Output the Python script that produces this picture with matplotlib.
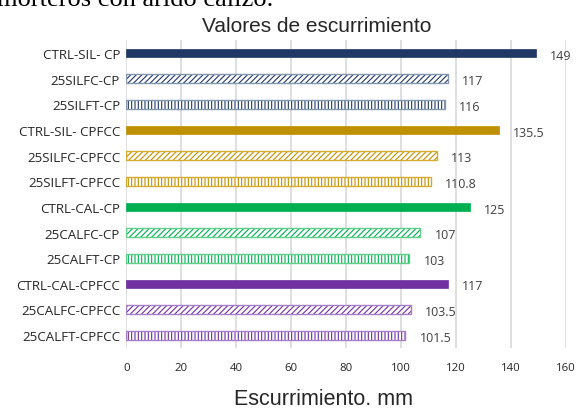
import numpy as np
import matplotlib.pyplot as plt

categorias = ["CTRL-SIL- CP", "25SILFC-CP", "25SILFT-CP",
              "CTRL-SIL- CPFCC", "25SILFC-CPFCC", "25SILFT-CPFCC",
              "CTRL-CAL-CP", "25CALFC-CP", "25CALFT-CP",
              "CTRL-CAL-CPFCC", "25CALFC-CPFCC", "25CALFT-CPFCC"]
valores = [149, 117, 116, 135.5, 113, 110.8, 125, 107, 103, 117, 103.5, 101.5]
etiquetas = ["149", "117", "116", "135.5", "113", "110.8",
             "125", "107", "103", "117", "103.5", "101.5"]

# color oscuro (relleno / trama) y claro (borde) por grupo
colores_grupo = ["#203864", "#BF9000", "#00B050", "#7030A0"]
bordes_grupo = ["#8497B0", "#D4AA30", "#5FD08A", "#A57FC8"]
rellenos = [None, "//////", "|||||"]

plt.rcParams["hatch.linewidth"] = 0.8

fig = plt.figure(figsize=(5.77, 4.10), dpi=100)
ax = fig.add_axes([0.2192, 0.149, 0.7617, 0.750])

y = np.arange(len(categorias))
for i, (v, lab) in enumerate(zip(valores, etiquetas)):
    c = colores_grupo[i // 3]
    h = rellenos[i % 3]
    if h is None:
        ax.barh(y[i], v, height=0.33, color=c, edgecolor=c, linewidth=0.5, zorder=3)
    else:
        ax.barh(y[i], v, height=0.35, color="white", edgecolor=c,
                hatch=h, linewidth=0, zorder=3)
        ax.barh(y[i], v, height=0.35, fill=False, edgecolor=bordes_grupo[i // 3],
                linewidth=1.0, zorder=4)
    ax.text(v + 5.2, y[i] + 0.08, lab, va="center", ha="left", fontsize=9,
            color="#404040", family="Open Sans", clip_on=False)

ax.set_ylim(len(categorias) - 0.5, -0.5)
ax.set_xlim(0, 160)
ax.set_xticks(np.arange(0, 161, 20))
ax.set_yticks(y)
ax.set_yticklabels(categorias, fontsize=9.6, color="#262626", family="Open Sans")
ax.tick_params(axis="x", labelsize=8.2, labelcolor="#262626", length=0, pad=10)
ax.tick_params(axis="y", length=0, pad=4.5)
for lbl in ax.get_xticklabels():
    lbl.set_family("Open Sans")
ax.grid(axis="x", color="#D9D9D9", linewidth=1.2, zorder=0)
for s in ax.spines.values():
    s.set_visible(False)

fig.text(317 / 577, 1 - 32 / 410, "Valores de escurrimiento", fontsize=15,
         color="#262626", family="Liberation Sans", ha="center", va="baseline")
fig.text(324 / 577, 1 - 405 / 410, "Escurrimiento. mm", fontsize=15.5,
         color="#262626", family="Liberation Sans", ha="center", va="baseline")

# trozo del párrafo anterior del documento
fig.text(-0.006, 1 - 6 / 410, "morteros con árido calizo.", fontsize=19,
         family="Liberation Serif", va="baseline", ha="left", color="black")

fig.savefig("out.png", dpi=100)
